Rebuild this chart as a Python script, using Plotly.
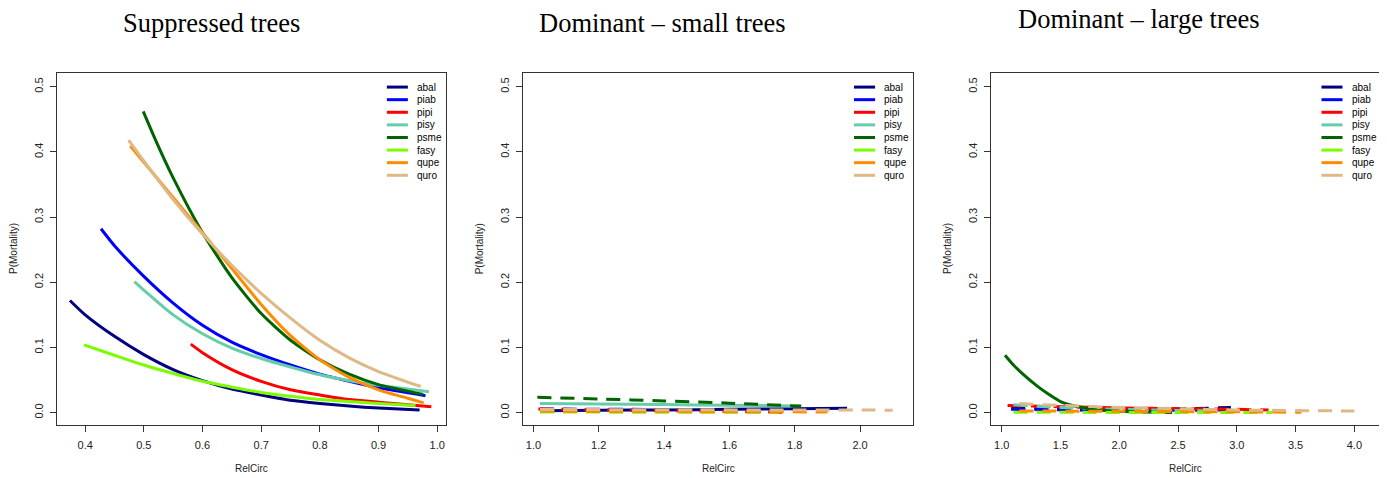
import plotly.graph_objects as go

W, H = 1387, 478          # browser window
OFF = 8                   # default page margin around the plot div
FW, FH = W - OFF, H - OFF # figure size so the figure fills the window

SPECIES = ["abal", "piab", "pipi", "pisy", "psme", "fasy", "qupe", "quro"]
COLORS = ["#000080", "#0000FF", "#FF0000", "#66CDAA", "#006400", "#7CFC00", "#FF8C00", "#DEB887"]
TITLES = ["Suppressed trees", "Dominant – small trees", "Dominant – large trees"]
X_LABEL = "RelCirc"
Y_LABEL = "P(Mortality)"

# ---------------- Panel 1: Suppressed trees ----------------
sup_abal_x = [0.374, 0.40, 0.45, 0.50, 0.55, 0.60, 0.65, 0.70, 0.75, 0.80, 0.85, 0.90, 0.97]
sup_abal_y = [0.172, 0.150, 0.117, 0.089, 0.066, 0.049, 0.036, 0.027, 0.019, 0.014, 0.010, 0.007, 0.004]
sup_piab_x = [0.427, 0.45, 0.50, 0.55, 0.60, 0.65, 0.70, 0.75, 0.80, 0.85, 0.90, 0.98]
sup_piab_y = [0.282, 0.256, 0.209, 0.168, 0.134, 0.108, 0.089, 0.073, 0.059, 0.048, 0.038, 0.026]
sup_pipi_x = [0.580, 0.60, 0.65, 0.70, 0.75, 0.80, 0.85, 0.90, 0.95, 0.99]
sup_pipi_y = [0.105, 0.092, 0.066, 0.048, 0.035, 0.027, 0.020, 0.016, 0.012, 0.009]
sup_pisy_x = [0.484, 0.50, 0.55, 0.60, 0.65, 0.70, 0.75, 0.80, 0.85, 0.90, 0.986]
sup_pisy_y = [0.201, 0.188, 0.150, 0.121, 0.099, 0.083, 0.070, 0.058, 0.049, 0.042, 0.032]
sup_psme_x = [0.499, 0.52, 0.55, 0.60, 0.65, 0.70, 0.75, 0.80, 0.85, 0.90, 0.976]
sup_psme_y = [0.462, 0.418, 0.360, 0.276, 0.207, 0.152, 0.111, 0.081, 0.059, 0.043, 0.028]
sup_fasy_x = [0.398, 0.45, 0.50, 0.55, 0.60, 0.65, 0.70, 0.75, 0.80, 0.85, 0.90, 0.963]
sup_fasy_y = [0.104, 0.088, 0.073, 0.060, 0.048, 0.039, 0.031, 0.025, 0.020, 0.017, 0.014, 0.011]
sup_qupe_x = [0.477, 0.50, 0.55, 0.60, 0.65, 0.70, 0.75, 0.80, 0.85, 0.90, 0.95, 0.977]
sup_qupe_y = [0.409, 0.384, 0.330, 0.276, 0.221, 0.166, 0.118, 0.081, 0.054, 0.035, 0.022, 0.015]
sup_quro_x = [0.474, 0.50, 0.55, 0.60, 0.65, 0.70, 0.75, 0.80, 0.85, 0.90, 0.972]
sup_quro_y = [0.418, 0.386, 0.327, 0.274, 0.226, 0.183, 0.145, 0.111, 0.084, 0.063, 0.040]
sup_dash = ["solid", "solid", "solid", "solid", "solid", "solid", "solid", "solid"]

# ---------------- Panel 2: Dominant - small trees ----------------
dsm_abal_x = [1.02, 1.2, 1.4, 1.6, 1.8, 1.96]
dsm_abal_y = [0.0030, 0.0035, 0.0042, 0.0050, 0.0060, 0.0067]
dsm_piab_x = [1.02, 1.2, 1.4, 1.6, 1.76]
dsm_piab_y = [0.0055, 0.0052, 0.0048, 0.0042, 0.0032]
dsm_pipi_x = [1.015, 1.2, 1.4, 1.6, 1.77]
dsm_pipi_y = [0.0055, 0.0042, 0.0030, 0.0018, 0.0006]
dsm_pisy_x = [1.02, 1.2, 1.4, 1.6, 1.79]
dsm_pisy_y = [0.0140, 0.0132, 0.0123, 0.0113, 0.0103]
dsm_psme_x = [1.012, 1.2, 1.4, 1.6, 1.82]
dsm_psme_y = [0.0235, 0.0210, 0.0180, 0.0145, 0.0100]
dsm_fasy_x = [1.02, 1.4, 1.75]
dsm_fasy_y = [0.0008, 0.0007, 0.0005]
dsm_qupe_x = [1.02, 1.5, 1.9]
dsm_qupe_y = [0.0020, 0.0015, 0.0010]
dsm_quro_x = [1.02, 1.5, 2.1]
dsm_quro_y = [0.0048, 0.0043, 0.0038]
dsm_dash = ["solid", "dash", "dash", "solid", "dash", "dash", "dash", "dash"]

# ---------------- Panel 3: Dominant - large trees ----------------
dlg_abal_x = [1.08, 1.4, 1.8, 2.2, 2.6, 2.95]
dlg_abal_y = [0.0068, 0.0052, 0.0042, 0.0045, 0.0060, 0.0080]
dlg_piab_x = [1.08, 1.5, 2.0, 2.5, 2.9]
dlg_piab_y = [0.0050, 0.0042, 0.0036, 0.0035, 0.0040]
dlg_pipi_x = [1.05, 1.5, 2.0, 2.5, 3.0, 3.27]
dlg_pipi_y = [0.0110, 0.0090, 0.0072, 0.0060, 0.0050, 0.0040]
dlg_pisy_x = [1.1, 1.5, 2.0, 2.5, 2.75]
dlg_pisy_y = [0.0120, 0.0080, 0.0050, 0.0032, 0.0030]
dlg_psme_x = [1.028, 1.1, 1.2, 1.3, 1.4, 1.5, 1.65, 1.8, 2.0, 2.2, 2.45]
dlg_psme_y = [0.088, 0.073, 0.056, 0.041, 0.028, 0.017, 0.009, 0.0045, 0.002, 0.001, 0.0003]
dlg_fasy_x = [1.1, 2.2, 3.3]
dlg_fasy_y = [0.0005, 0.0003, 0.0002]
dlg_qupe_x = [1.15, 2.0, 3.0, 3.55]
dlg_qupe_y = [0.0025, 0.0020, 0.0012, 0.0005]
dlg_quro_x = [1.15, 1.5, 2.0, 2.5, 3.0, 4.0]
dlg_quro_y = [0.0140, 0.0110, 0.0080, 0.0060, 0.0040, 0.0025]
dlg_dash = ["dash", "dash", "dash", "dash", "solid", "dash", "dash", "dash"]

# Axis ticks / ranges
X_TICKS = [
    [0.4, 0.5, 0.6, 0.7, 0.8, 0.9, 1.0],
    [1.0, 1.2, 1.4, 1.6, 1.8, 2.0],
    [1.0, 1.5, 2.0, 2.5, 3.0, 3.5, 4.0],
]
Y_TICKS = [0.0, 0.1, 0.2, 0.3, 0.4, 0.5]
X_RANGES = [[0.352, 1.015], [0.969, 2.163], [0.909, 4.224]]
Y_RANGE = [-0.019, 0.521]

panels = [
    ([sup_abal_x, sup_piab_x, sup_pipi_x, sup_pisy_x, sup_psme_x, sup_fasy_x, sup_qupe_x, sup_quro_x],
     [sup_abal_y, sup_piab_y, sup_pipi_y, sup_pisy_y, sup_psme_y, sup_fasy_y, sup_qupe_y, sup_quro_y],
     sup_dash),
    ([dsm_abal_x, dsm_piab_x, dsm_pipi_x, dsm_pisy_x, dsm_psme_x, dsm_fasy_x, dsm_qupe_x, dsm_quro_x],
     [dsm_abal_y, dsm_piab_y, dsm_pipi_y, dsm_pisy_y, dsm_psme_y, dsm_fasy_y, dsm_qupe_y, dsm_quro_y],
     dsm_dash),
    ([dlg_abal_x, dlg_piab_x, dlg_pipi_x, dlg_pisy_x, dlg_psme_x, dlg_fasy_x, dlg_qupe_x, dlg_quro_x],
     [dlg_abal_y, dlg_piab_y, dlg_pipi_y, dlg_pisy_y, dlg_psme_y, dlg_fasy_y, dlg_qupe_y, dlg_quro_y],
     dlg_dash),
]

# Layout in window pixels (plot boxes)
BOX_X = [(57, 446), (523.3, 913.3), (991, 1380.7)]
BOX_TOP, BOX_BOTTOM = 73, 425
TITLE_POS = [(211.3, 23.4), (662.5, 23.4), (1139.2, 19.4)]


def px(xp):
    return (xp - OFF) / FW


def py(yp):
    return 1 - (yp - OFF) / FH


SANS = "Liberation Sans, Arial, sans-serif"
SERIF = "Liberation Serif, Times New Roman, serif"
DASH_PATTERN = "14px,9px"

fig = go.Figure()
layout = dict(
    width=FW, height=FH,
    margin=dict(l=0, r=0, t=0, b=0),
    paper_bgcolor="white", plot_bgcolor="white",
    showlegend=False,
)
shapes, annotations = [], []

for i, (xs, ys, dashes) in enumerate(panels):
    n = "" if i == 0 else str(i + 1)
    xa, ya = "x" + n, "y" + n
    for k, sp in enumerate(SPECIES):
        fig.add_trace(go.Scatter(
            x=xs[k], y=ys[k], mode="lines", name=sp,
            xaxis=xa, yaxis=ya,
            line=dict(color=COLORS[k], width=3, shape="spline", smoothing=0.6,
                      dash="solid" if dashes[k] == "solid" else DASH_PATTERN),
        ))
    x0, x1 = BOX_X[i]
    common = dict(showline=True, mirror=True, linecolor="#333333", linewidth=1,
                  ticks="outside", ticklen=6, tickcolor="#333333", tickwidth=1,
                  showgrid=False, zeroline=False,
                  tickfont=dict(family=SANS, size=11, color="#222222"))
    layout["xaxis" + n] = dict(common, domain=[px(x0), px(x1)], range=X_RANGES[i],
                               anchor=ya, tickvals=X_TICKS[i], tickformat=".1f",
                               ticklabelstandoff=4)
    layout["yaxis" + n] = dict(common, domain=[py(BOX_BOTTOM), py(BOX_TOP)],
                               range=Y_RANGE, anchor=xa, tickvals=Y_TICKS,
                               tickformat=".1f", tickangle=-90, ticklabelstandoff=3)
    # Title
    tx, ty = TITLE_POS[i]
    annotations.append(dict(text=TITLES[i], x=px(tx), y=py(ty), xref="paper", yref="paper",
                            xanchor="center", yanchor="middle", showarrow=False,
                            font=dict(family=SERIF, size=26.5, color="black")))
    # Axis titles
    annotations.append(dict(text=X_LABEL, x=0.5, y=py(468), xref=xa + " domain", yref="paper",
                            xanchor="center", yanchor="middle", showarrow=False,
                            font=dict(family=SANS, size=10, color="#222222")))
    annotations.append(dict(text=Y_LABEL, x=px(x0 - 44), y=0.5, xref="paper", yref=ya + " domain",
                            xanchor="center", yanchor="middle", showarrow=False, textangle=-90,
                            font=dict(family=SANS, size=10, color="#222222")))
    # Legend (inside top-right)
    for k, sp in enumerate(SPECIES):
        ly = 0.960 - k * (12.6 / (BOX_BOTTOM - BOX_TOP))
        shapes.append(dict(type="line", xref=xa + " domain", yref=ya + " domain",
                           x0=0.848, x1=0.902, y0=ly, y1=ly,
                           line=dict(color=COLORS[k], width=3)))
        annotations.append(dict(text=sp, x=0.921, y=ly, xref=xa + " domain", yref=ya + " domain",
                                xanchor="left", yanchor="middle", showarrow=False,
                                font=dict(family=SANS, size=10, color="black")))

layout["shapes"] = shapes
layout["annotations"] = annotations
fig.update_layout(**layout)
fig.write_html("out.html")
